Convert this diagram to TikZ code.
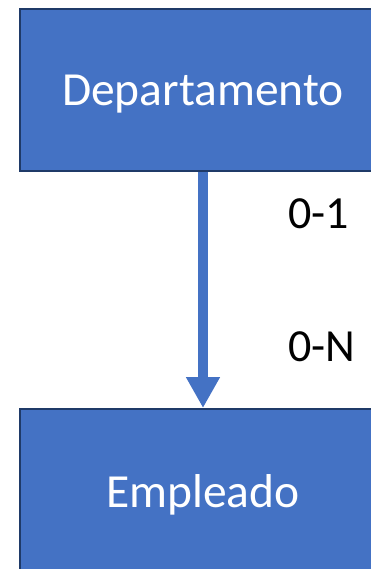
\documentclass[tikz,border=0pt]{standalone}
\usepackage{fontspec}
\setmainfont{Carlito}
\usetikzlibrary{arrows.meta}
\definecolor{boxfill}{HTML}{4472C4}
\definecolor{boxline}{HTML}{1F3A68}
\tikzset{
  entity/.style={draw=boxline, line width=2pt, fill=boxfill, text=white,
    minimum width=366pt, minimum height=162pt, inner sep=0pt},
  etext/.style={inner sep=0pt, text=white, font=\fontsize{47.5}{52}\selectfont},
  card/.style={inner sep=0pt, text=black, font=\fontsize{46}{50}\selectfont},
  rel/.style={draw=boxfill, line width=10pt,
    -{Triangle[width=32pt,length=31pt]}}
}
\begin{document}
\begin{tikzpicture}[x=1pt,y=-1pt]
\useasboundingbox (0,0) rectangle (370,569);
\node[entity] (dep) at (203,90) {};
\node[etext, anchor=base] (dept) at (203,106) {Departamento};
\node[entity] (emp) at (203,490) {};
\node[etext, anchor=base] (empt) at (203,507) {Empleado};
\draw[rel] (dep.south) -- (emp.north);
\node[card, anchor=base west] (c1) at (288,228) {0-1};
\node[card, anchor=base west] (c2) at (288,361) {0-N};
\end{tikzpicture}
\end{document}
